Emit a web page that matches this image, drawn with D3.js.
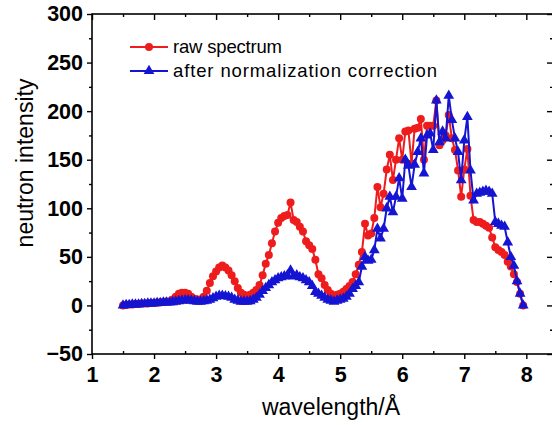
<!DOCTYPE html>
<html><head><meta charset="utf-8">
<script src="https://cdn.jsdelivr.net/npm/d3@7"></script>
<style>body{margin:0;background:#fff}</style>
</head><body><svg id="c" width="552" height="425"></svg>
<script>
const wavelength = [1.50,1.55,1.60,1.65,1.70,1.75,1.80,1.85,1.90,1.95,2.00,2.05,2.10,2.15,2.20,2.25,2.30,2.35,2.40,2.45,2.50,2.55,2.60,2.65,2.70,2.75,2.80,2.85,2.90,2.95,3.00,3.05,3.10,3.15,3.20,3.25,3.30,3.35,3.40,3.45,3.50,3.55,3.60,3.65,3.70,3.75,3.80,3.85,3.90,3.95,4.00,4.05,4.10,4.15,4.20,4.25,4.30,4.35,4.40,4.45,4.50,4.55,4.60,4.65,4.70,4.75,4.80,4.85,4.90,4.95,5.00,5.05,5.10,5.15,5.20,5.25,5.30,5.35,5.40,5.45,5.50,5.55,5.60,5.65,5.70,5.75,5.80,5.85,5.90,5.95,6.00,6.05,6.10,6.15,6.20,6.25,6.30,6.35,6.40,6.45,6.50,6.55,6.60,6.65,6.70,6.75,6.80,6.85,6.90,6.95,7.00,7.05,7.10,7.15,7.20,7.25,7.30,7.35,7.40,7.45,7.50,7.55,7.60,7.65,7.70,7.75,7.80,7.85,7.90,7.95];
const rawSpectrum = [0,0.5,1,1,1.5,1.5,2,2,2,2.5,2.5,3,3,3.5,4,4,6,9,12,13,13,12,9,7,6,6,9,15,23,30,35,39,41,39,36,31,25,18,13,11,10,11,13,16,21,31,43,52,64,76,85,90,92,93,106,88,86,81,76,66,62,58,47,32,28,21,16,12,10,11,12,14,17,20,24,32,42,55,84,72,74,90,122,101,115,140,155,129,150,172,150,179,180,146,182,183,192,150,185,185,185,211,165,170,175,196,172,160,139,112,140,161,113,88,86,86,84,82,80,70,60,57,55,52,45,40,32,24,12,0];
const corrected = [0,0.5,0.5,1,1,1,1.5,1.5,2,2,2,2.5,2.5,3,3,3,3.5,4,4.5,5,5.5,5.5,5,4.5,4,4,4.5,5,6,7.5,9,10,10,9.5,9,8,6,5,4,4,4,4.5,6,8,11,15,18,21,24,26,28,29,30,31,36,30,31,29,28,26,24,20,14,12,10,8,6,5,4,5,6,7,9,12,17,20,24,40,50,46,47,57,79,69,79,100,112,96,112,131,110,150,144,122,145,158,172,136,175,177,160,211,168,179,172,216,191,172,158,129,170,194,139,108,115,116,117,118,117,115,86,84,82,81,65,50,41,25,12,0];
const seriesNames = ["raw spectrum", "after normalization correction"];
const xTicks = [1,2,3,4,5,6,7,8];
const yTicks = [-50,0,50,100,150,200,250,300];
const xMinor = [1.5,2.5,3.5,4.5,5.5,6.5,7.5];
const yMinor = [-25,25,75,125,175,225,275];

const svg = d3.select("#c");
const L = 92, R = 553, T = 14, B = 354;
const x = d3.scaleLinear().domain([1, 8.43]).range([L, R]);
const y = d3.scaleLinear().domain([-50, 300]).range([B, T]);
const font = "Arial, 'Liberation Sans', sans-serif";
const red = "#ee1c1c", blue = "#1414d2";

// axes
const gb = svg.append("g").attr("transform", `translate(0,${B})`);
gb.call(d3.axisBottom(x).tickValues(xTicks).tickSize(5).tickPadding(8).tickFormat(d3.format("d")));
gb.append("g").call(d3.axisTop(x).tickValues(xMinor).tickSize(3).tickFormat(""));
const gl = svg.append("g").attr("transform", `translate(${L},0)`);
gl.call(d3.axisLeft(y).tickValues(yTicks).tickSize(5).tickPadding(4).tickFormat(d3.format("d")));
gl.append("g").call(d3.axisLeft(y).tickValues(yMinor).tickSize(3).tickFormat(""));
const gt = svg.append("g").attr("transform", `translate(0,${T})`);
gt.call(d3.axisBottom(x).tickValues(xTicks).tickSize(6).tickFormat(""));
gt.append("g").call(d3.axisBottom(x).tickValues(xMinor).tickSize(3).tickFormat(""));
const gr = svg.append("g").attr("transform", `translate(${R},0)`);
gr.call(d3.axisLeft(y).tickValues(yTicks).tickSize(6).tickFormat(""));
gr.append("g").call(d3.axisLeft(y).tickValues(yMinor).tickSize(3).tickFormat(""));
svg.selectAll(".domain").attr("stroke", "none");
svg.selectAll(".tick line").attr("stroke", "#000").attr("stroke-width", 1.4);
svg.selectAll(".tick text").attr("font-family", font).attr("font-weight", "bold").attr("font-size", 21.5).attr("fill", "#000");
svg.append("rect").attr("x", L).attr("y", T).attr("width", R - L).attr("height", B - T)
  .attr("fill", "none").attr("stroke", "#000").attr("stroke-width", 1.6);

// data
const pts = (vals) => wavelength.map((w, i) => [w, vals[i]]);
const line = d3.line().x(d => x(d[0])).y(d => y(d[1]));
const tri = d3.symbol().type(d3.symbolTriangle).size(50);

const gRed = svg.append("g");
gRed.append("path").datum(pts(rawSpectrum)).attr("d", line).attr("fill", "none").attr("stroke", red).attr("stroke-width", 2);
gRed.selectAll("circle").data(pts(rawSpectrum)).join("circle")
  .attr("cx", d => x(d[0])).attr("cy", d => y(d[1])).attr("r", 4).attr("fill", red);

const gBlue = svg.append("g");
gBlue.append("path").datum(pts(corrected)).attr("d", line).attr("fill", "none").attr("stroke", blue).attr("stroke-width", 2);
gBlue.selectAll("path.m").data(pts(corrected)).join("path").attr("class", "m")
  .attr("d", tri).attr("transform", d => `translate(${x(d[0])},${y(d[1])})`).attr("fill", blue);

// legend
const leg = svg.append("g");
[[red, 47, "c", 109], [blue, 71, "t", 264]].forEach(([c, yy, m, len], i) => {
  leg.append("line").attr("x1", 130).attr("x2", 168).attr("y1", yy).attr("y2", yy).attr("stroke", c).attr("stroke-width", 1.8);
  if (m === "c") leg.append("circle").attr("cx", 149).attr("cy", yy).attr("r", 4).attr("fill", c);
  else leg.append("path").attr("d", tri).attr("transform", `translate(149,${yy})`).attr("fill", c);
  leg.append("text").attr("x", 173).attr("y", yy).attr("dy", "0.35em").attr("font-family", font)
    .attr("font-size", 18.5).attr("fill", "#000").attr("textLength", len).attr("lengthAdjust", "spacing")
    .text(seriesNames[i]);
});

// titles
svg.append("text").attr("transform", "translate(33,163) rotate(-90)").attr("text-anchor", "middle")
  .attr("font-family", font).attr("font-size", 23).attr("fill", "#000").text("neutron intensity");
svg.append("text").attr("x", 331).attr("y", 415).attr("text-anchor", "middle")
  .attr("font-family", font).attr("font-size", 23).attr("fill", "#000").text("wavelength/Å");
</script></body></html>
